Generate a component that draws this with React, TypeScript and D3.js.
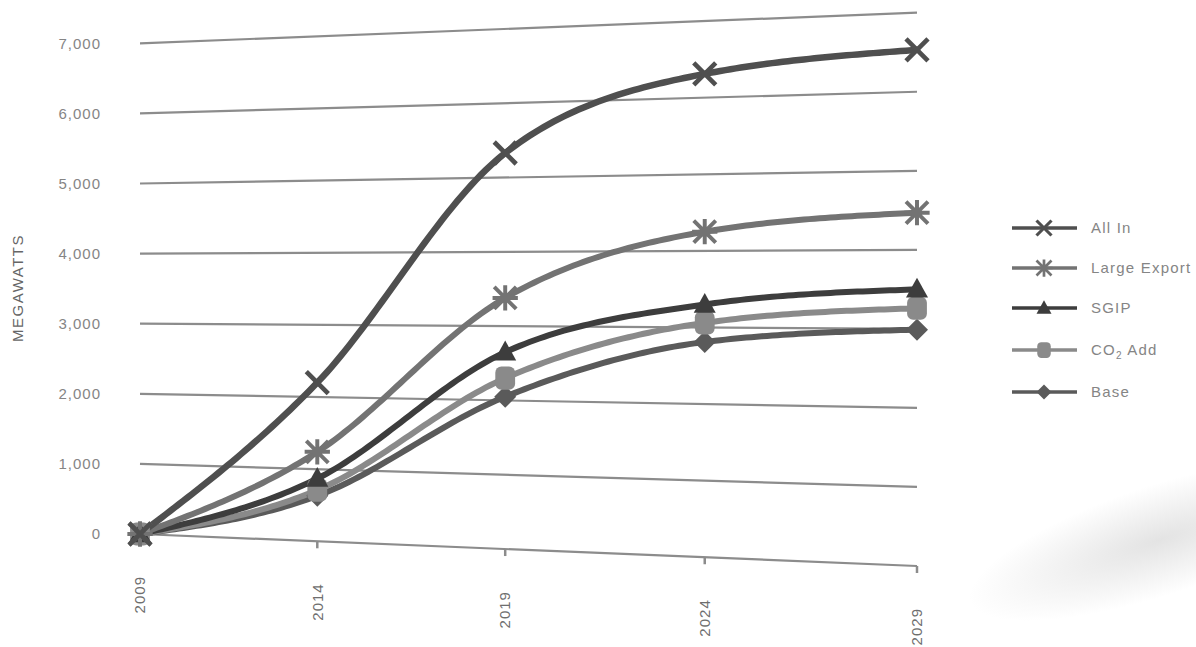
import React from 'react';
import * as d3 from 'd3';

// Capacity projections by scenario (MW)
const years = [2009, 2014, 2019, 2024, 2029];
const allIn = [0, 2200, 5330, 6310, 6530];
const largeExport = [0, 1240, 3380, 4250, 4470];
const sgip = [0, 870, 2650, 3300, 3500];
const co2Add = [0, 710, 2300, 3060, 3260];
const base = [0, 630, 2050, 2810, 2990];
const yTicks = [0, 1000, 2000, 3000, 4000, 5000, 6000, 7000];
const seriesNames = ['All In', 'Large Export', 'SGIP', 'CO2 Add', 'Base'];

// The plot plane is drawn in a flat space, then mapped onto a tilted
// quadrilateral (left edge farther away than the right edge).
const FLAT_W = 777;
const FLAT_H = 490;
const LEFT_X = 140;
const TL = 43.3; // top-left y
const BL = 534; // bottom-left y
const TR = 12.7; // top-right y
const BR = 566; // bottom-right y
const WA = BL - TL;
const WB = BR - TR;

function project(px: number, py: number): [number, number] {
  const u = px / FLAT_W;
  const v = 1 - py / FLAT_H;
  const s = (u * WA) / ((1 - u) * WB + u * WA);
  const X = LEFT_X + FLAT_W * s;
  const top = TL + (TR - TL) * s;
  const bot = BL + (BR - BL) * s;
  return [X, bot - v * (bot - top)];
}

// Path context that samples segments in flat space and emits warped points.
function makeWarpContext() {
  let d = '';
  let cx = 0;
  let cy = 0;
  const emit = (px: number, py: number, cmd: string) => {
    const [X, Y] = project(px, py);
    d += `${cmd}${X.toFixed(2)},${Y.toFixed(2)}`;
  };
  return {
    moveTo(x0: number, y0: number) {
      emit(x0, y0, 'M');
      cx = x0;
      cy = y0;
    },
    lineTo(x1: number, y1: number) {
      const n = 16;
      for (let i = 1; i <= n; i++) emit(cx + ((x1 - cx) * i) / n, cy + ((y1 - cy) * i) / n, 'L');
      cx = x1;
      cy = y1;
    },
    bezierCurveTo(x1: number, y1: number, x2: number, y2: number, x3: number, y3: number) {
      const n = 40;
      for (let i = 1; i <= n; i++) {
        const t = i / n;
        const mt = 1 - t;
        const bx = mt * mt * mt * cx + 3 * mt * mt * t * x1 + 3 * mt * t * t * x2 + t * t * t * x3;
        const by = mt * mt * mt * cy + 3 * mt * mt * t * y1 + 3 * mt * t * t * y2 + t * t * t * y3;
        emit(bx, by, 'L');
      }
      cx = x3;
      cy = y3;
    },
    closePath() {
      d += 'Z';
    },
    path() {
      return d;
    },
  };
}

type MarkerKind = 'cross' | 'star' | 'triangle' | 'square' | 'diamond';

function Marker({ kind, cx, cy, s, color }: { kind: MarkerKind; cx: number; cy: number; s: number; color: string }) {
  switch (kind) {
    case 'cross':
      return (
        <path
          d={`M${cx - s},${cy - s}L${cx + s},${cy + s}M${cx - s},${cy + s}L${cx + s},${cy - s}`}
          stroke={color}
          strokeWidth={s * 0.42}
          fill="none"
        />
      );
    case 'star':
      return (
        <path
          d={`M${cx - s},${cy - s}L${cx + s},${cy + s}M${cx - s},${cy + s}L${cx + s},${cy - s}M${cx},${cy - s * 1.15}L${cx},${cy + s * 1.15}M${cx - s * 1.15},${cy}L${cx + s * 1.15},${cy}`}
          stroke={color}
          strokeWidth={s * 0.36}
          fill="none"
        />
      );
    case 'triangle':
      return <path d={`M${cx},${cy - s * 1.05}L${cx + s},${cy + s * 0.75}L${cx - s},${cy + s * 0.75}Z`} fill={color} />;
    case 'square':
      return <rect x={cx - s * 0.9} y={cy - s * 1.05} width={s * 1.8} height={s * 2.1} rx={s * 0.55} fill={color} />;
    case 'diamond':
      return <path d={`M${cx},${cy - s}L${cx + s},${cy}L${cx},${cy + s}L${cx - s},${cy}Z`} fill={color} />;
    default:
      return null;
  }
}

function SeriesLabel({ name }: { name: string }) {
  if (name === 'CO2 Add') {
    return (
      <>
        CO
        <tspan fontSize="10" dy="4">
          2
        </tspan>
        <tspan dy="-4"> Add</tspan>
      </>
    );
  }
  return <>{name}</>;
}

export default function App() {
  const x = d3.scaleLinear().domain([2009, 2029]).range([0, FLAT_W]);
  const y = d3.scaleLinear().domain([0, 7000]).range([FLAT_H, 0]);
  const fmt = d3.format(',');

  const series: { name: string; values: number[]; color: string; width: number; marker: MarkerKind }[] = [
    { name: seriesNames[0], values: allIn, color: '#4f4f4f', width: 6.5, marker: 'cross' },
    { name: seriesNames[1], values: largeExport, color: '#737373', width: 6, marker: 'star' },
    { name: seriesNames[2], values: sgip, color: '#3d3d3d', width: 6, marker: 'triangle' },
    { name: seriesNames[3], values: co2Add, color: '#8a8a8a', width: 6, marker: 'square' },
    { name: seriesNames[4], values: base, color: '#5a5a5a', width: 6, marker: 'diamond' },
  ];

  const warpedLine = (vals: number[]) => {
    const ctx = makeWarpContext();
    d3.line<number>()
      .x((_, i) => x(years[i]))
      .y((v) => y(v))
      .curve(d3.curveMonotoneX)
      .context(ctx as any)(vals);
    return ctx.path();
  };

  const drawOrder = [...series].reverse();
  const gridColor = '#8c8c8c';
  const textColor = '#858585';
  const font = "'Liberation Sans', Arial, sans-serif";

  const legendY = [228, 268, 308, 350, 392];

  return (
    <svg
      width={1196}
      height={647}
      style={{ position: 'absolute', left: 0, top: 0, background: '#fff' }}
      fontFamily={font}
    >
      <defs>
        <radialGradient id="haze" cx="0.5" cy="0.5" r="0.5">
          <stop offset="0" stopColor="#b0b0b0" stopOpacity="0.35" />
          <stop offset="1" stopColor="#b0b0b0" stopOpacity="0" />
        </radialGradient>
      </defs>
      <ellipse cx={1160} cy={540} rx={200} ry={55} fill="url(#haze)" transform="rotate(-18 1160 540)" />

      {/* gridlines */}
      {yTicks.map((t) => {
        const [x1, y1] = project(0, y(t));
        const [x2, y2] = project(FLAT_W, y(t));
        return <line key={t} x1={x1} y1={y1} x2={x2} y2={y2} stroke={gridColor} strokeWidth={2.2} />;
      })}

      {/* x ticks */}
      {years.slice(1).map((yr) => {
        const [tx, ty] = project(x(yr), FLAT_H);
        return <line key={yr} x1={tx} y1={ty} x2={tx} y2={ty + 7} stroke={gridColor} strokeWidth={2.5} />;
      })}

      {/* y tick labels */}
      {yTicks.map((t) => {
        const [, ly] = project(0, y(t));
        return (
          <text key={t} x={101} y={ly} dy="0.35em" textAnchor="end" fontSize={15} letterSpacing={1} fill={textColor}>
            {fmt(t)}
          </text>
        );
      })}

      {/* x tick labels */}
      {years.map((yr) => {
        const [lx, ly] = project(x(yr), FLAT_H);
        return (
          <text
            key={yr}
            transform={`translate(${lx},${ly + 42}) rotate(-90)`}
            dy="0.35em"
            textAnchor="end"
            fontSize={15}
            letterSpacing={1}
            fill="#6e6e6e"
          >
            {yr}
          </text>
        );
      })}

      <text
        transform="translate(18,288) rotate(-90)"
        dy="0.35em"
        textAnchor="middle"
        fontSize={15}
        letterSpacing={1.5}
        fill="#666"
      >
        MEGAWATTS
      </text>

      {/* series lines */}
      {drawOrder.map((sr) => (
        <path key={sr.name} d={warpedLine(sr.values)} fill="none" stroke={sr.color} strokeWidth={sr.width} strokeLinecap="round" />
      ))}

      {/* markers */}
      {drawOrder.map((sr) =>
        sr.values.map((v, i) => {
          const [mx, my] = project(x(years[i]), y(v));
          return <Marker key={`${sr.name}-${i}`} kind={sr.marker} cx={mx} cy={my} s={11} color={sr.color} />;
        })
      )}

      {/* legend */}
      {series.map((sr, i) => (
        <g key={sr.name}>
          <line x1={1012} x2={1077} y1={legendY[i]} y2={legendY[i]} stroke={sr.color} strokeWidth={3.5} />
          <Marker kind={sr.marker} cx={1044} cy={legendY[i]} s={7.5} color={sr.color} />
          <text x={1091} y={legendY[i]} dy="0.35em" fontSize={15} letterSpacing={1.2} fill={textColor}>
            <SeriesLabel name={sr.name} />
          </text>
        </g>
      ))}
    </svg>
  );
}
